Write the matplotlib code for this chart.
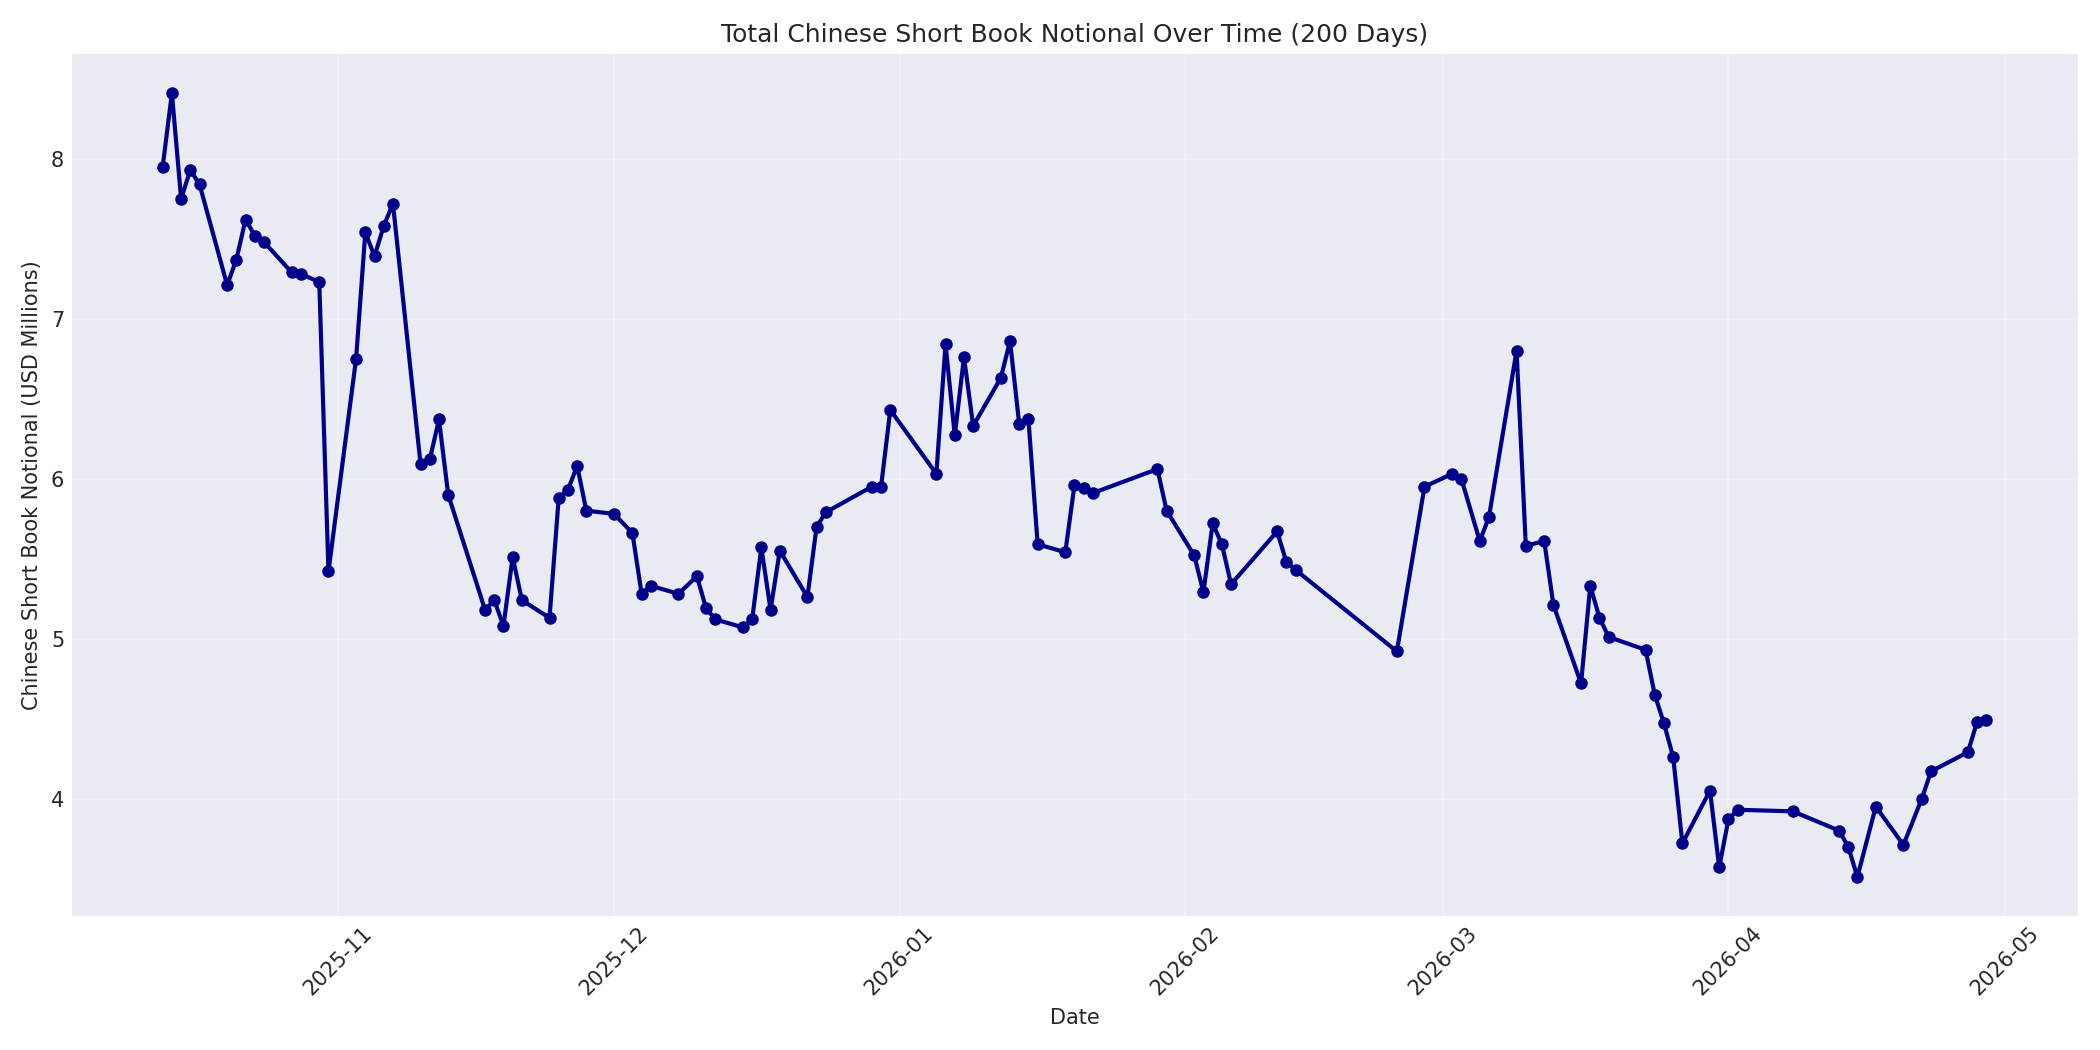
import matplotlib
matplotlib.use("Agg")
import matplotlib.pyplot as plt
import pandas as pd

# trading days
dates = [
    "2025-10-13", "2025-10-14", "2025-10-15", "2025-10-16", "2025-10-17",
    "2025-10-20", "2025-10-21", "2025-10-22", "2025-10-23", "2025-10-24",
    "2025-10-27", "2025-10-28", "2025-10-30", "2025-10-31",
    "2025-11-03", "2025-11-04", "2025-11-05", "2025-11-06", "2025-11-07",
    "2025-11-10", "2025-11-11", "2025-11-12", "2025-11-13",
    "2025-11-17", "2025-11-18", "2025-11-19", "2025-11-20", "2025-11-21",
    "2025-11-24", "2025-11-25", "2025-11-26", "2025-11-27", "2025-11-28",
    "2025-12-01", "2025-12-03", "2025-12-04", "2025-12-05",
    "2025-12-08", "2025-12-10", "2025-12-11", "2025-12-12",
    "2025-12-15", "2025-12-16", "2025-12-17", "2025-12-18", "2025-12-19",
    "2025-12-22", "2025-12-23", "2025-12-24",
    "2025-12-29", "2025-12-30", "2025-12-31",
    "2026-01-05", "2026-01-06", "2026-01-07", "2026-01-08", "2026-01-09",
    "2026-01-12", "2026-01-13", "2026-01-14", "2026-01-15", "2026-01-16",
    "2026-01-19", "2026-01-20", "2026-01-21", "2026-01-22",
    "2026-01-29", "2026-01-30",
    "2026-02-02", "2026-02-03", "2026-02-04", "2026-02-05", "2026-02-06",
    "2026-02-11", "2026-02-12", "2026-02-13",
    "2026-02-24", "2026-02-27",
    "2026-03-02", "2026-03-03", "2026-03-05", "2026-03-06",
    "2026-03-09", "2026-03-10", "2026-03-12", "2026-03-13",
    "2026-03-16", "2026-03-17", "2026-03-18", "2026-03-19",
    "2026-03-23", "2026-03-24", "2026-03-25", "2026-03-26", "2026-03-27",
    "2026-03-30", "2026-03-31", "2026-04-01", "2026-04-02",
    "2026-04-08",
    "2026-04-13", "2026-04-14", "2026-04-15", "2026-04-17",
    "2026-04-20", "2026-04-22", "2026-04-23",
    "2026-04-27", "2026-04-28", "2026-04-29",
]

notional = [
    7.95, 8.41, 7.75, 7.93, 7.84,
    7.21, 7.37, 7.62, 7.52, 7.48,
    7.29, 7.28, 7.23, 5.42,
    6.75, 7.54, 7.39, 7.58, 7.72,
    6.09, 6.12, 6.37, 5.90,
    5.18, 5.24, 5.08, 5.51, 5.24,
    5.13, 5.88, 5.93, 6.08, 5.80,
    5.78, 5.66, 5.28, 5.33,
    5.28, 5.39, 5.19, 5.12,
    5.07, 5.12, 5.57, 5.18, 5.55,
    5.26, 5.70, 5.79,
    5.95, 5.95, 6.43,
    6.03, 6.84, 6.27, 6.76, 6.33,
    6.63, 6.86, 6.34, 6.37, 5.59,
    5.54, 5.96, 5.94, 5.91,
    6.06, 5.80,
    5.52, 5.29, 5.72, 5.59, 5.34,
    5.67, 5.48, 5.43,
    4.92, 5.95,
    6.03, 6.00, 5.61, 5.76,
    6.80, 5.58, 5.61, 5.21,
    4.72, 5.33, 5.13, 5.01,
    4.93, 4.65, 4.47, 4.26, 3.72,
    4.05, 3.57, 3.87, 3.93,
    3.92,
    3.80, 3.70, 3.51, 3.95,
    3.71, 4.00, 4.17,
    4.29, 4.48, 4.49,
]

x = pd.to_datetime(dates)

plt.style.use("seaborn-v0_8-darkgrid")
plt.rcParams["font.family"] = ["DejaVu Sans"]
fig, ax = plt.subplots(figsize=(14, 7), dpi=150)
ax.plot(x, notional, marker="o", linewidth=2, markersize=5, color="darkblue")
ax.set_title("Total Chinese Short Book Notional Over Time (200 Days)", fontsize=12)
ax.set_xlabel("Date", fontsize=10)
ax.set_ylabel("Chinese Short Book Notional (USD Millions)", fontsize=10)
ax.grid(True, alpha=0.3)
plt.xticks(rotation=45)
plt.tight_layout()
plt.savefig("out.png")
